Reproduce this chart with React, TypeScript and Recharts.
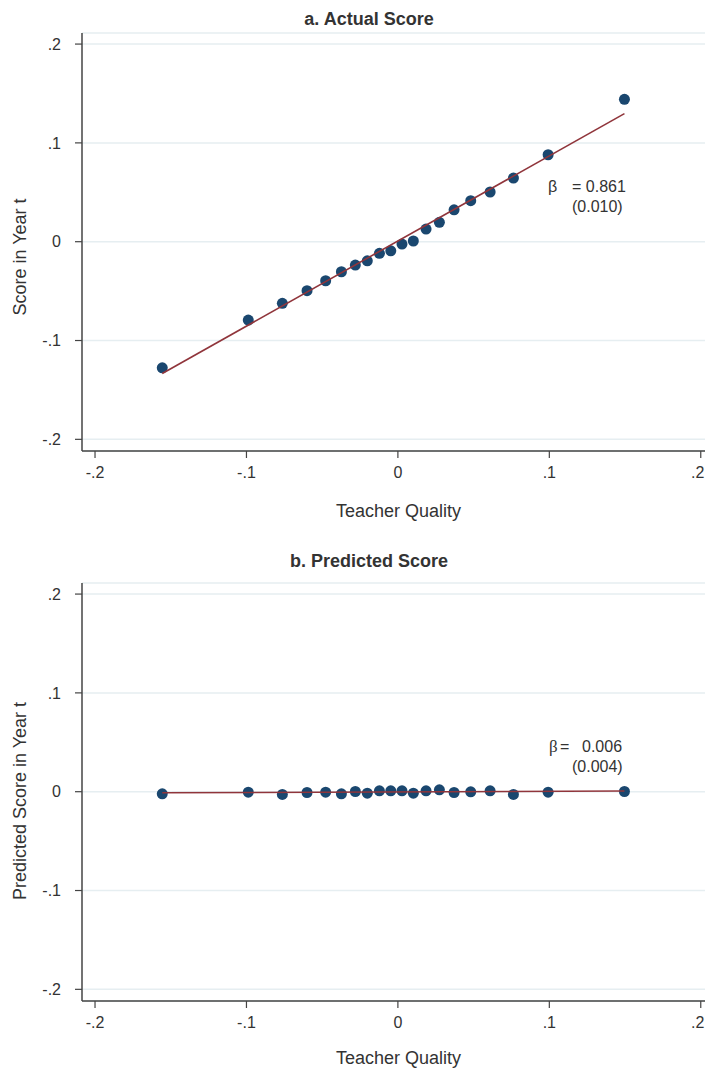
import React from 'react';
import { ScatterChart, Scatter, XAxis, YAxis, CartesianGrid } from 'recharts';

const tickValues = [-0.2, -0.1, 0, 0.1, 0.2];
const tickLabels = ['-.2', '-.1', '0', '.1', '.2'];

const actualX = [-0.1556, -0.0988, -0.0763, -0.06, -0.0477, -0.0373, -0.0281, -0.0202, -0.0122, -0.0047, 0.0027, 0.0102, 0.0186, 0.0274, 0.0371, 0.0481, 0.0609, 0.0763, 0.0992, 0.1496];
const actualY = [-0.1276, -0.0793, -0.0624, -0.0496, -0.0395, -0.0304, -0.0236, -0.0193, -0.0118, -0.0092, -0.0024, 0.0007, 0.0128, 0.0196, 0.0323, 0.0415, 0.0503, 0.0644, 0.088, 0.1441];
const predictedY = [-0.0021, -0.0005, -0.0028, -0.0008, -0.0005, -0.0021, 0.0002, -0.0015, 0.0009, 0.0009, 0.0009, -0.0015, 0.0009, 0.0019, -0.0008, -0.0001, 0.0009, -0.0028, -0.0005, 0.0002];

const fitActualX = [-0.1556, 0.1496];
const fitActualY = [-0.1333, 0.1296];
const fitPredX = [-0.1556, 0.1496];
const fitPredY = [-0.0011, 0.0007];

const dataA = actualX.map((x, i) => ({ x, y: actualY[i] }));
const dataB = actualX.map((x, i) => ({ x, y: predictedY[i] }));
const fitA = fitActualX.map((x, i) => ({ x, y: fitActualY[i] }));
const fitB = fitPredX.map((x, i) => ({ x, y: fitPredY[i] }));

const DOT = '#1a476f';
const LINE = '#90353b';
const TEXT = '#333333';
const FONT = '"Liberation Sans", Arial, Helvetica, sans-serif';

const fmt = (v: number) => {
  const idx = tickValues.findIndex((t) => Math.abs(t - v) < 1e-9);
  return idx >= 0 ? tickLabels[idx] : String(v);
};

const Dot = (props: any) => {
  const { cx, cy } = props;
  if (cx == null || cy == null) return <g />;
  return <circle cx={cx} cy={cy} r={5.5} fill={DOT} />;
};
const NoDot = () => <g />;

const XTick = (props: any) => {
  const { x, y, payload } = props;
  const last = Math.abs(payload.value - 0.2) < 1e-9;
  return (
    <text x={last ? x - 3 : x} y={y} dy="0.71em" textAnchor="middle" fill={TEXT} fontSize={16} fontFamily={FONT}>
      {fmt(payload.value)}
    </text>
  );
};

function Panel({ data, fit, height, bottom }: { data: any[]; fit: any[]; height: number; bottom: number }) {
  return (
    <ScatterChart width={705} height={height} margin={{ top: 33, right: 0, bottom, left: 22 }}>
      <CartesianGrid horizontal vertical={false} stroke="#e6eef1" strokeWidth={1.5} />
      <XAxis
        type="number"
        dataKey="x"
        domain={[-0.2086, 0.2028]}
        allowDataOverflow
        ticks={tickValues}
        interval={0}
        tickFormatter={fmt}
        height={30}
        tickSize={7}
        tickMargin={9}
        axisLine={{ stroke: '#444', strokeWidth: 1.5 }}
        tickLine={{ stroke: '#444', strokeWidth: 1.2 }}
        tick={<XTick />}
      />
      <YAxis
        type="number"
        dataKey="y"
        domain={[-0.2118, 0.2112]}
        allowDataOverflow
        ticks={tickValues}
        interval={0}
        tickFormatter={fmt}
        width={60}
        tickSize={7}
        tickMargin={14}
        axisLine={{ stroke: '#444', strokeWidth: 1.5 }}
        tickLine={{ stroke: '#444', strokeWidth: 1.2 }}
        tick={{ fill: TEXT, fontSize: 16, fontFamily: FONT }}
      />
      <Scatter data={data} shape={Dot} isAnimationActive={false} />
      <Scatter data={fit} shape={NoDot} line={{ stroke: LINE, strokeWidth: 1.6 }} isAnimationActive={false} />
    </ScatterChart>
  );
}

export default function App() {
  return (
    <div style={{ position: 'absolute', left: 0, top: 0, width: 705, height: 1071, background: '#fff' }}>
      <div style={{ position: 'absolute', left: 0, top: 0 }}>
        <Panel data={dataA} fit={fitA} height={535} bottom={54} />
      </div>
      <div style={{ position: 'absolute', left: 0, top: 550 }}>
        <Panel data={dataB} fit={fitB} height={521} bottom={40} />
      </div>
      <svg width={705} height={1071} style={{ position: 'absolute', left: 0, top: 0, pointerEvents: 'none' }}>
        <g fontFamily={FONT} fill={TEXT}>
          <text x={369} y={25} textAnchor="middle" fontSize={18} fontWeight="bold">a. Actual Score</text>
          <text x={398.5} y={517} textAnchor="middle" fontSize={18}>Teacher Quality</text>
          <text transform="translate(26,257) rotate(-90)" textAnchor="middle" fontSize={18}>Score in Year t</text>
          <text x={548} y={192} fontSize={16}>β</text>
          <text x={572} y={192} fontSize={16}>= 0.861</text>
          <text x={572} y={212} fontSize={16}>(0.010)</text>

          <text x={369} y={567} textAnchor="middle" fontSize={18} fontWeight="bold">b. Predicted Score</text>
          <text x={398.5} y={1064} textAnchor="middle" fontSize={18}>Teacher Quality</text>
          <text transform="translate(26,801) rotate(-90)" textAnchor="middle" fontSize={18}>Predicted Score in Year t</text>
          <text x={549} y={752} fontSize={17} fontFamily='"Liberation Serif", "DejaVu Serif", serif'>β</text>
          <text x={560} y={752} fontSize={16}>=</text>
          <text x={582} y={752} fontSize={16}>0.006</text>
          <text x={572} y={772} fontSize={16}>(0.004)</text>
        </g>
      </svg>
    </div>
  );
}
